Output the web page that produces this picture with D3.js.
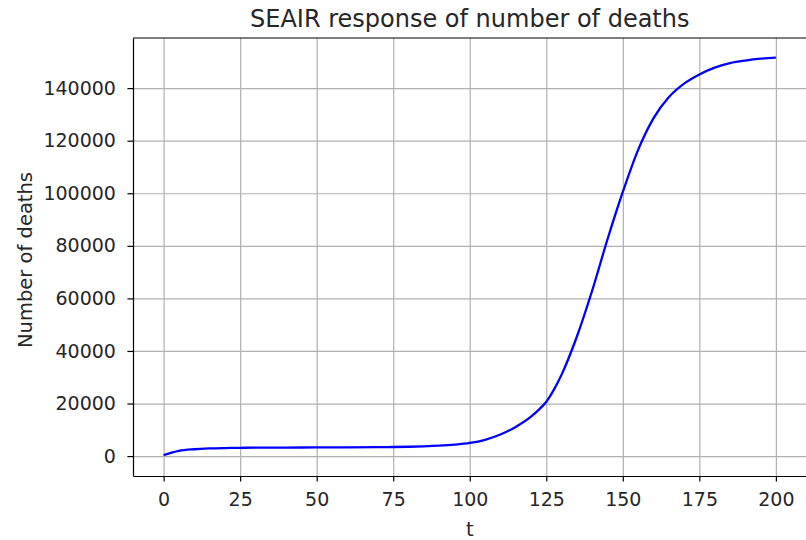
<!DOCTYPE html>
<html>
<head>
<meta charset="utf-8">
<script src="https://cdn.jsdelivr.net/npm/d3@7"></script>
<style>
  body { margin: 0; background: #fff; }
  svg text { font-family: "DejaVu Sans", sans-serif; fill: #262626; }
  .grid line { stroke: #b0b0b0; stroke-width: 1.2px; }
  .grid .domain { display: none; }
  .axis .domain { stroke: #000; stroke-width: 1.2px; }
  .axis line { stroke: #000; stroke-width: 1.2px; }
</style>
</head>
<body>
<svg class="chart"></svg>
<script>
// Data
var days = [0, 5, 10, 15, 20, 25, 30, 40, 50, 60, 70, 75, 80, 85, 90, 95, 100, 105, 110, 115,
    120, 122.5, 125, 127.5, 130, 135, 140, 145, 150, 155, 160, 165, 170, 175, 180, 185, 190, 195, 200];
var deaths = [400, 2000, 2600, 2900, 3050, 3150, 3200, 3250, 3300, 3350, 3400, 3450, 3550, 3700, 3950, 4350, 5000, 6200, 8200, 11100,
    15000, 17600, 20700, 25300, 31000, 45500, 63000, 82500, 100500, 116500, 128500, 136500, 141700, 145200, 147800, 149500, 150500, 151200, 151600];
var xTicks = [0, 25, 50, 75, 100, 125, 150, 175, 200];
var yTicks = [0, 20000, 40000, 60000, 80000, 100000, 120000, 140000];

var data = days.map(function (d, i) {
    return { t: d, v: deaths[i] };
});

// Margins
var margin = { top: 38, right: 0, bottom: 64, left: 133 },
    width = 673.5,
    height = 438;

var svg = d3.select('.chart').attr('width', 806).attr('height', 540);
var chart = svg.append('g').attr('transform', 'translate(' + margin.left + ',' + margin.top + ')');

// matplotlib style 5% padding
var x = d3.scaleLinear().domain([-10, 210]).range([0, width]);
var yMin = 0, yMax = 151500, pad = (yMax - yMin) * 0.05;
var y = d3.scaleLinear().domain([yMin - pad, yMax + pad]).range([height, 0]);

// gridlines
chart.append('g')
    .attr('class', 'grid')
    .attr('transform', 'translate(0,' + height + ')')
    .call(d3.axisBottom(x).tickValues(xTicks).tickSize(-height).tickFormat(''));
chart.append('g')
    .attr('class', 'grid')
    .call(d3.axisLeft(y).tickValues(yTicks).tickSize(-width).tickFormat(''));

// line
var line = d3.line()
    .x(function (d) { return x(d.t); })
    .y(function (d) { return y(d.v); })
    .curve(d3.curveMonotoneX);

chart.append('path')
    .datum(data)
    .attr('fill', 'none')
    .attr('stroke', '#0000ff')
    .attr('stroke-width', 2.3)
    .attr('d', line);

// spines
chart.append('line').attr('x1', 0).attr('x2', width).attr('y1', 0).attr('y2', 0)
    .attr('stroke', '#000').attr('stroke-width', 1.2);

// axes
var xAxis = chart.append('g')
    .attr('class', 'axis')
    .attr('transform', 'translate(0,' + height + ')')
    .call(d3.axisBottom(x).tickValues(xTicks).tickSize(5.6).tickPadding(10.5).tickSizeOuter(0));
xAxis.selectAll('text').style('font-size', '19px');

var yAxis = chart.append('g')
    .attr('class', 'axis')
    .call(d3.axisLeft(y).tickValues(yTicks).tickSize(5.6).tickPadding(11.5).tickSizeOuter(0).tickFormat(d3.format('d')));
yAxis.selectAll('text').style('font-size', '19px');

// title and labels
svg.append('text')
    .attr('x', margin.left + width / 2)
    .attr('y', 27)
    .attr('text-anchor', 'middle')
    .style('font-size', '24px')
    .text('SEAIR response of number of deaths');

svg.append('text')
    .attr('x', margin.left + width / 2)
    .attr('y', 535.5)
    .attr('text-anchor', 'middle')
    .style('font-size', '19.5px')
    .text('t');

svg.append('text')
    .attr('transform', 'translate(32,' + (margin.top + height / 2 + 3) + ') rotate(-90)')
    .attr('text-anchor', 'middle')
    .style('font-size', '19.5px')
    .text('Number of deaths');
</script>
</body>
</html>
